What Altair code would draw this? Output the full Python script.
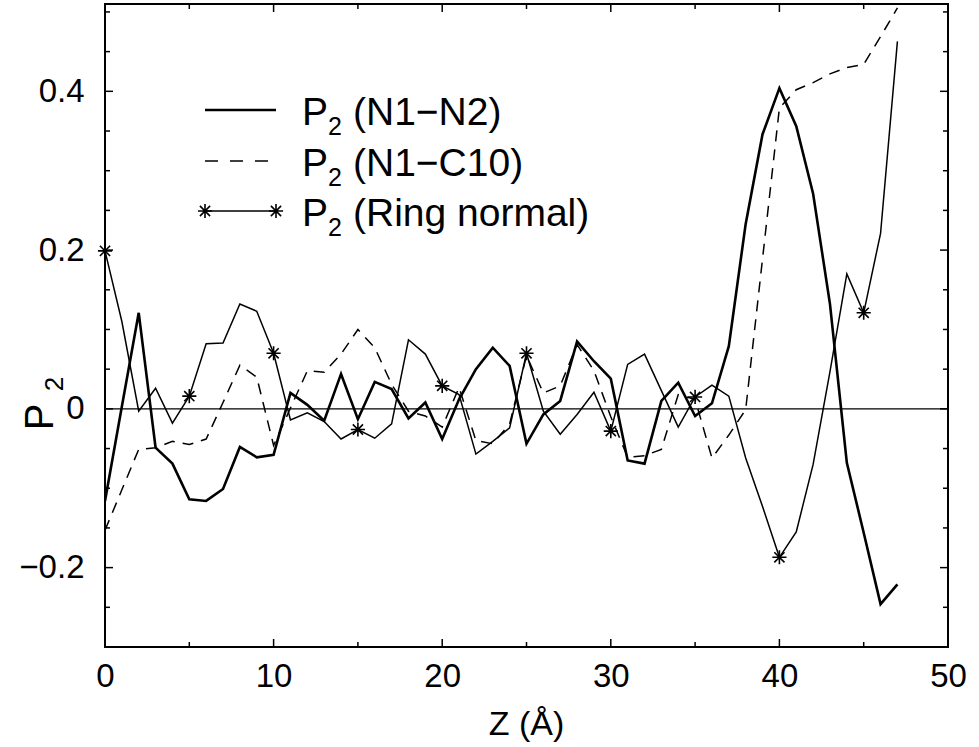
import altair as alt
import pandas as pd

# ---------------- data ----------------
z = list(range(48))
p2_n1n2 = [-0.116, 0.003, 0.121, -0.049, -0.069, -0.114, -0.116, -0.101, -0.048, -0.061,
           -0.058, 0.020, 0.005, -0.015, 0.044, -0.013, 0.034, 0.025, -0.012, 0.008,
           -0.038, 0.012, 0.050, 0.077, 0.054, -0.044, -0.007, 0.010, 0.085, 0.060,
           0.038, -0.065, -0.069, 0.010, 0.033, -0.009, 0.007, 0.079, 0.233, 0.346,
           0.404, 0.356, 0.271, 0.132, -0.068, -0.156, -0.246, -0.221]
p2_n1c10 = [-0.153, -0.102, -0.051, -0.049, -0.041, -0.045, -0.038, 0.008, 0.055, 0.040,
            -0.046, 0.001, 0.048, 0.046, 0.069, 0.100, 0.077, 0.031, -0.003, -0.009,
            -0.023, 0.027, -0.040, -0.044, -0.019, 0.067, 0.020, 0.029, 0.081, 0.048,
            -0.010, -0.061, -0.059, -0.051, 0.018, 0.012, -0.062, -0.033, -0.001, 0.189,
            0.379, 0.402, 0.411, 0.422, 0.430, 0.434, 0.469, 0.505]
p2_ring = [0.199, 0.110, -0.003, 0.026, -0.018, 0.016, 0.082, 0.083, 0.132, 0.123,
           0.070, -0.014, -0.005, -0.016, -0.038, -0.026, -0.037, -0.019, 0.087, 0.069,
           0.029, 0.018, -0.057, -0.041, -0.024, 0.070, -0.003, -0.032, -0.007, 0.021,
           -0.028, 0.056, 0.069, 0.023, -0.023, 0.015, 0.030, 0.016, -0.062, -0.123,
           -0.187, -0.155, -0.070, 0.047, 0.170, 0.121, 0.221, 0.463]
marker_every = 5

x_label_values = [0, 10, 20, 30, 40, 50]
y_label_values = [-0.2, 0, 0.2, 0.4]
x_minor = [5, 15, 25, 35, 45]
y_minor = [-0.3, -0.25, -0.15, -0.1, -0.05, 0.05, 0.1, 0.15, 0.25, 0.3, 0.35, 0.45, 0.5]

legend_rows = ["(N1\u2212N2)", "(N1\u2212C10)", "(Ring normal)"]
x_title = "Z (\u00c5)"
y_title_main = "P"
y_title_sub = "2"

# ---------------- layout ----------------
W, H = 843, 643
FONT = "Liberation Sans"
STAR = "M-1,0L1,0M0,-1L0,1M-0.72,-0.72L0.72,0.72M-0.72,0.72L0.72,-0.72"

df = pd.DataFrame({"z": z, "a": p2_n1n2, "b": p2_n1c10, "c": p2_ring})
df_star = df[df["z"] % marker_every == 0]

xs = alt.Scale(domain=[0, 50], nice=False)
ys = alt.Scale(domain=[-0.3, 0.51], nice=False, zero=False)

X = alt.X("z:Q", scale=xs, title=None,
          axis=alt.Axis(values=x_label_values, ticks=False, domain=False, grid=False,
                        labelPadding=13, labelFontSize=33, labelFont=FONT,
                        labelColor="black", format="d", labelFlush=False,
                        labelOverlap=False))

def Yf(field, axis=None):
    if axis:
        return alt.Y(field, scale=ys, title=None, axis=axis)
    return alt.Y(field, scale=ys, title=None)

yaxis = alt.Axis(values=y_label_values, ticks=False, domain=False, grid=False,
                 labelPadding=21, labelFontSize=33, labelFont=FONT, labelColor="black",
                 labelFlush=False, labelOverlap=False,
                 labelExpr="datum.value == 0 ? '0' : format(datum.value, '.1f')")

base = alt.Chart(df)

zero_line = alt.Chart(pd.DataFrame({"v": [0]})).mark_rule(
    color="black", strokeWidth=1.2).encode(y=Yf("v:Q"))

thick = base.mark_line(color="black", strokeWidth=2.6, clip=True).encode(
    x=X, y=Yf("a:Q", yaxis))
dashed = base.mark_line(color="black", strokeWidth=1.5, strokeDash=[11, 8], clip=True).encode(
    x=alt.X("z:Q", scale=xs, title=None), y=Yf("b:Q"))
thin = base.mark_line(color="black", strokeWidth=1.5, clip=True).encode(
    x=alt.X("z:Q", scale=xs, title=None), y=Yf("c:Q"))
stars = alt.Chart(df_star).mark_point(shape=STAR, size=200, filled=False, color="black",
                                      strokeWidth=1.6, opacity=1).encode(
    x=alt.X("z:Q", scale=xs, title=None), y=Yf("c:Q"))

def xticks(vals, L):
    d = alt.Chart(pd.DataFrame({"v": vals}))
    bot = d.mark_rule(color="black", strokeWidth=1.5).encode(
        x=alt.X("v:Q", scale=xs, title=None), y=alt.value(H), y2=alt.value(H - L))
    top = d.mark_rule(color="black", strokeWidth=1.5).encode(
        x=alt.X("v:Q", scale=xs, title=None), y=alt.value(0), y2=alt.value(L))
    return [bot, top]

def yticks(vals, L):
    d = alt.Chart(pd.DataFrame({"v": vals}))
    left = d.mark_rule(color="black", strokeWidth=1.5).encode(
        y=Yf("v:Q"), x=alt.value(0), x2=alt.value(L))
    right = d.mark_rule(color="black", strokeWidth=1.5).encode(
        y=Yf("v:Q"), x=alt.value(W), x2=alt.value(W - L))
    return [left, right]

tick_layers = xticks(x_label_values, 8) + xticks(x_minor, 5) + \
    yticks(y_label_values, 8) + yticks(y_minor, 5)

one = pd.DataFrame({"k": [0]})

def text(t, x, y, size, angle=None, align="left"):
    kw = dict(text=t, font=FONT, fontSize=size, align=align, baseline="alphabetic",
              color="black")
    if angle is not None:
        kw["angle"] = angle
    return alt.Chart(one).mark_text(**kw).encode(x=alt.value(x), y=alt.value(y))

# legend
LX1, LX2 = 100, 171
row_y = [106, 157, 207]
row_base = [121, 171.5, 222]
legend = []
legend.append(alt.Chart(one).mark_rule(color="black", strokeWidth=2.6).encode(
    x=alt.value(LX1), x2=alt.value(LX2), y=alt.value(row_y[0])))
legend.append(alt.Chart(one).mark_rule(color="black", strokeWidth=1.5, strokeDash=[13, 12]).encode(
    x=alt.value(LX1), x2=alt.value(LX2), y=alt.value(row_y[1])))
legend.append(alt.Chart(one).mark_rule(color="black", strokeWidth=1.5).encode(
    x=alt.value(LX1), x2=alt.value(LX2), y=alt.value(row_y[2])))
for lx in (LX1, LX2):
    legend.append(alt.Chart(one).mark_point(shape=STAR, size=200, filled=False, color="black",
                                            strokeWidth=1.6, opacity=1).encode(
        x=alt.value(lx), y=alt.value(row_y[2])))
for lbl, b in zip(legend_rows, row_base):
    legend.append(text("P", 197, b, 39))
    legend.append(text("2", 223, b + 10, 25))
    legend.append(text(lbl, 248, b, 39))

titles = [
    text(x_title, W / 2, 731, 34, align="center"),
    text(y_title_main, -52, 413, 40, angle=270, align="center"),
    text(y_title_sub, -42, 380, 26, angle=270, align="center"),
]

chart = alt.layer(zero_line, thick, dashed, thin, stars, *tick_layers, *legend, *titles).properties(
    width=W, height=H,
    autosize=alt.AutoSizeParams(type="none"),
    padding={"left": 105, "top": 4, "right": 31, "bottom": 100},
).configure_view(stroke="black", strokeWidth=2)

chart.save("out.html", embed_options={"renderer": "svg", "actions": False})
